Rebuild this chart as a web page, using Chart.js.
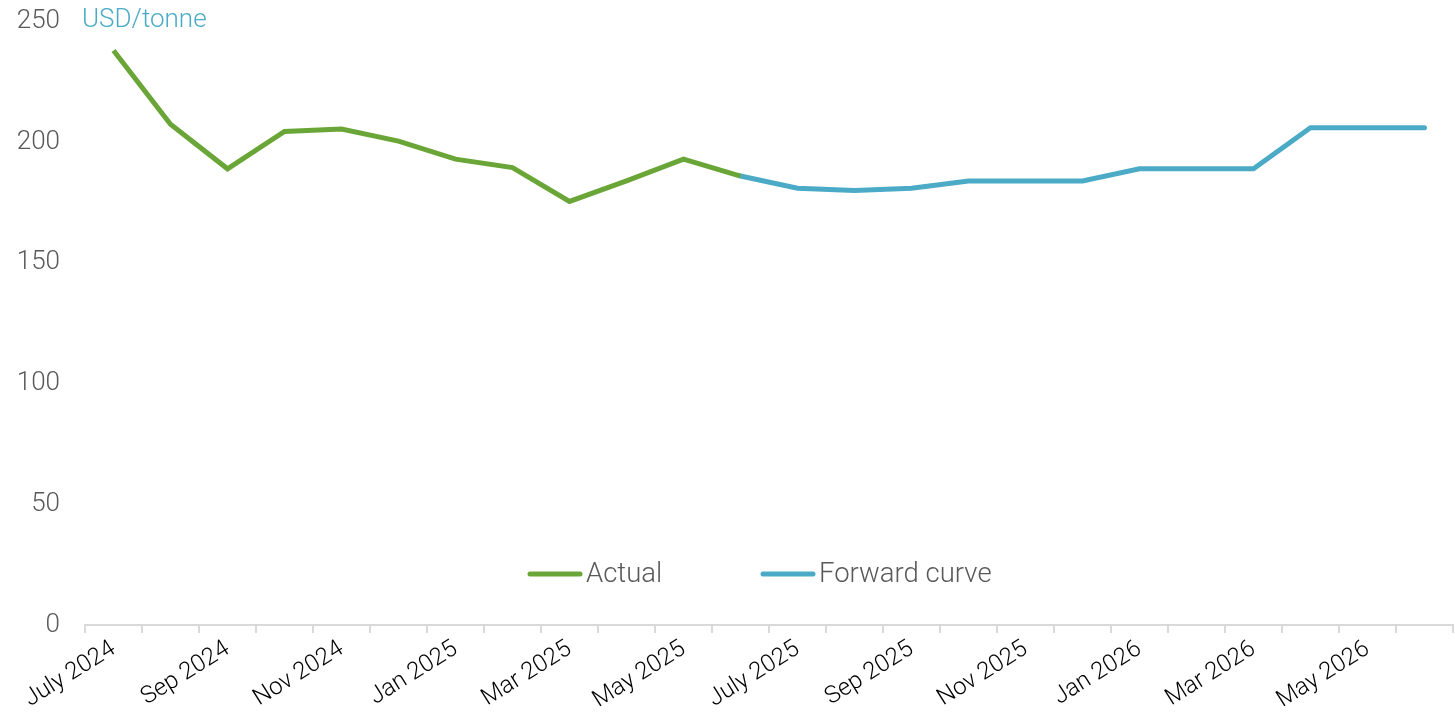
<!DOCTYPE html>
<html>
<head>
<meta charset="utf-8">
<title>Price chart</title>
<script src="https://cdn.jsdelivr.net/npm/chart.js@4.4.0/dist/chart.umd.min.js"></script>
<style>
  html, body { margin: 0; padding: 0; background: #fff; }
  #wrap { width: 1455px; height: 714px; position: relative; }
</style>
</head>
<body>
<div id="wrap"><canvas id="priceChart"></canvas></div>
<script>
// months on the x axis, only every other one is labelled
const months = [
  'July 2024', 'Aug 2024', 'Sep 2024', 'Oct 2024', 'Nov 2024', 'Dec 2024',
  'Jan 2025', 'Feb 2025', 'Mar 2025', 'Apr 2025', 'May 2025', 'June 2025',
  'July 2025', 'Aug 2025', 'Sep 2025', 'Oct 2025', 'Nov 2025', 'Dec 2025',
  'Jan 2026', 'Feb 2026', 'Mar 2026', 'Apr 2026', 'May 2026', 'June 2026'
];

// USD/tonne
const actual = [238, 207.5, 189, 204.5, 205.5, 200.5, 193, 189.5, 175.5, 184, 193, 186,
  null, null, null, null, null, null, null, null, null, null, null, null];
const forwardCurve = [null, null, null, null, null, null, null, null, null, null, null, 186,
  181, 180, 181, 184, 184, 184, 189, 189, 189, 206, 206, 206];

const yTicks = [0, 50, 100, 150, 200, 250];

const GREEN = '#6aa637';
const BLUE = '#4babc7';
const FONT = 'Roboto, "Open Sans", sans-serif';

// legend sits inside the plot, near the bottom, and the unit label at top left
const extras = {
  id: 'extras',
  afterDraw(chart) {
    const ctx = chart.ctx;
    ctx.save();
    ctx.font = '300 26px ' + FONT;
    ctx.textBaseline = 'middle';
    ctx.fillStyle = BLUE;
    ctx.textAlign = 'left';
    ctx.fillText('USD/tonne', 82, 20);

    const items = [
      { x: 530, text: 'Actual', color: GREEN },
      { x: 763, text: 'Forward curve', color: BLUE }
    ];
    const y = 574;
    items.forEach(function(it) {
      ctx.strokeStyle = it.color;
      ctx.lineWidth = 5;
      ctx.lineCap = 'round';
      ctx.beginPath();
      ctx.moveTo(it.x, y);
      ctx.lineTo(it.x + 50, y);
      ctx.stroke();
      ctx.font = '300 27.5px ' + FONT;
      ctx.fillStyle = '#595959';
      ctx.fillText(it.text, it.x + 56, y + 1);
    });
    ctx.restore();
  }
};

new Chart(document.getElementById('priceChart'), {
  type: 'line',
  data: {
    labels: months,
    datasets: [
      {
        label: 'Actual',
        data: actual,
        borderColor: GREEN,
        borderWidth: 5,
        pointRadius: 0,
        tension: 0,
        fill: false
      },
      {
        label: 'Forward curve',
        data: forwardCurve,
        borderColor: BLUE,
        borderWidth: 5,
        pointRadius: 0,
        tension: 0,
        fill: false,
        borderCapStyle: 'round'
      }
    ]
  },
  options: {
    responsive: true,
    maintainAspectRatio: false,
    animation: false,
    layout: { padding: { top: 0, right: 2, left: 0, bottom: 0 } },
    plugins: {
      legend: { display: false },
      tooltip: { enabled: false }
    },
    scales: {
      x: {
        offset: true,
        afterFit: function(axis) { axis.height = 89; },
        grid: {
          offset: true,
          drawOnChartArea: false,
          drawTicks: true,
          tickLength: 8,
          color: '#d9d9d9',
          lineWidth: 2
        },
        border: { color: '#d9d9d9', width: 2 },
        ticks: {
          autoSkip: false,
          minRotation: 32,
          maxRotation: 32,
          color: '#000',
          font: { family: FONT, size: 24, weight: 300 },
          padding: 2,
          callback: function(value, index) {
            return index % 2 === 0 ? months[index] : '';
          }
        }
      },
      y: {
        min: 0,
        max: 250,
        afterBuildTicks: function(axis) {
          axis.ticks = yTicks.map(function(v) { return { value: v }; });
        },
        afterFit: function(axis) { axis.width = 85; },
        // grid hidden; tickLength only pushes the labels away from the axis
        grid: { display: false, drawTicks: true, tickLength: 19 },
        border: { display: false },
        ticks: {
          color: '#595959',
          padding: 6,
          font: { family: FONT, size: 26, weight: 300 }
        }
      }
    }
  },
  plugins: [extras]
});
</script>
</body>
</html>
